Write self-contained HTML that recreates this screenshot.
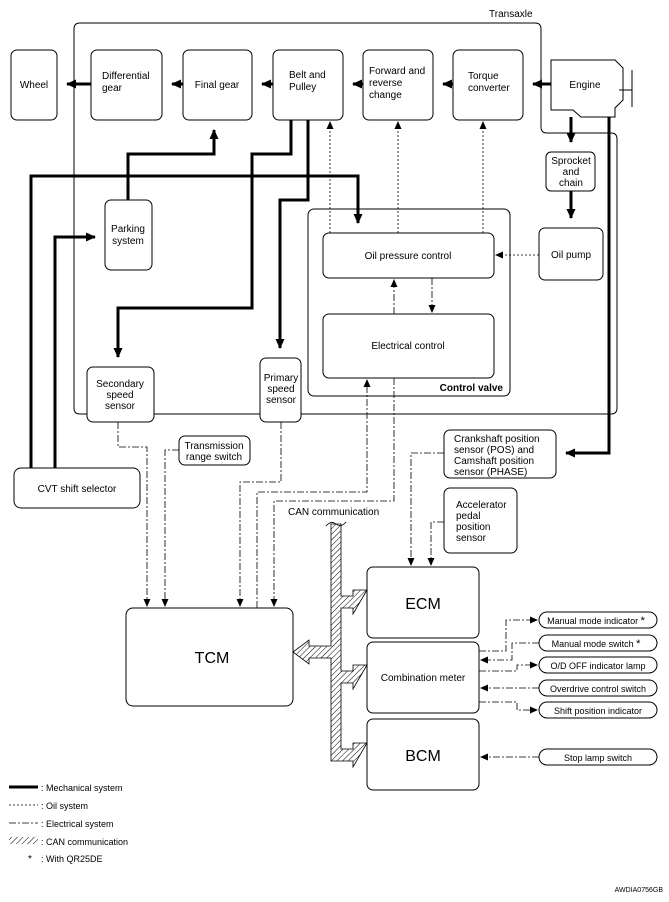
<!DOCTYPE html>
<html><head><meta charset="utf-8"><style>
html,body{margin:0;padding:0;background:#fff;}
svg{display:block;font-family:"Liberation Sans",sans-serif;}
text{font-size:10px;fill:#000;}
</style></head><body>
<svg width="669" height="902" viewBox="0 0 669 902" xmlns="http://www.w3.org/2000/svg">
<defs>
<marker id="a" markerWidth="8" markerHeight="8" refX="7" refY="4" orient="auto" markerUnits="userSpaceOnUse"><path d="M0,0.5 L8,4 L0,7.5 z" fill="#000"/></marker>
<marker id="b" markerWidth="10" markerHeight="10" refX="9" refY="5" orient="auto" markerUnits="userSpaceOnUse"><path d="M0,0.5 L10,5 L0,9.5 z" fill="#000"/></marker>
<pattern id="h" width="4" height="4" patternUnits="userSpaceOnUse" patternTransform="rotate(45)"><rect width="4" height="4" fill="#fff"/><line x1="0" y1="0" x2="0" y2="4" stroke="#000" stroke-width="1"/></pattern>
</defs>
<g fill="none" stroke="#000" stroke-width="1">
<!-- Transaxle outline -->
<path d="M80,23 H535 Q541,23 541,29 V127 Q541,133 547,133 H611 Q617,133 617,139 V408 Q617,414 611,414 H80 Q74,414 74,408 V29 Q74,23 80,23 Z"/>
<rect x="11" y="50" width="46" height="70" rx="6"/>
<rect x="91" y="50" width="71" height="70" rx="6"/>
<rect x="183" y="50" width="69" height="70" rx="6"/>
<rect x="273" y="50" width="70" height="70" rx="6"/>
<rect x="363" y="50" width="70" height="70" rx="6"/>
<rect x="453" y="50" width="70" height="70" rx="6"/>
<path d="M551,60 H615 L623,68 V100 L615,108 V117 H581 L573,110 H551 Z" fill="#fff"/>
<path d="M632,70 V107 M619,90 H632"/>
<rect x="546" y="152" width="49" height="39" rx="5"/>
<rect x="539" y="228" width="64" height="52" rx="6"/>
<rect x="308" y="209" width="202" height="187" rx="6"/>
<rect x="323" y="233" width="171" height="45" rx="6"/>
<rect x="323" y="314" width="171" height="64" rx="6"/>
<rect x="105" y="200" width="47" height="70" rx="6"/>
<rect x="87" y="367" width="67" height="55" rx="6" fill="#fff"/>
<rect x="260" y="358" width="41" height="64" rx="6" fill="#fff"/>
<rect x="179" y="436" width="71" height="29" rx="6"/>
<rect x="14" y="468" width="126" height="40" rx="7"/>
<rect x="444" y="430" width="112" height="48" rx="6"/>
<rect x="444" y="488" width="73" height="65" rx="6"/>
<rect x="367" y="567" width="112" height="71" rx="6"/>
<rect x="367" y="642" width="112" height="71" rx="6"/>
<rect x="367" y="719" width="112" height="71" rx="6"/>
<rect x="126" y="608" width="167" height="98" rx="7"/>
<rect x="539" y="612" width="118" height="16" rx="8"/>
<rect x="539" y="635" width="118" height="16" rx="8"/>
<rect x="539" y="657" width="118" height="16" rx="8"/>
<rect x="539" y="680" width="118" height="16" rx="8"/>
<rect x="539" y="702" width="118" height="16" rx="8"/>
<rect x="539" y="749" width="118" height="16" rx="8"/>
</g>
<!-- mechanical -->
<g fill="none" stroke="#000" stroke-width="3">
<path d="M551,84 H533" marker-end="url(#b)"/>
<path d="M453,84 H443" marker-end="url(#b)"/>
<path d="M363,84 H353" marker-end="url(#b)"/>
<path d="M273,84 H262" marker-end="url(#b)"/>
<path d="M183,84 H172" marker-end="url(#b)"/>
<path d="M91,84 H67" marker-end="url(#b)"/>
<path d="M128,200 V154 H214 V130" marker-end="url(#b)"/>
<path d="M31,468 V176 H358 V223" marker-end="url(#b)"/>
<path d="M55,468 V237 H95" marker-end="url(#b)"/>
<path d="M291,120 V154 H252 V308 H118 V357" marker-end="url(#b)"/>
<path d="M308,120 V200 H280 V348" marker-end="url(#b)"/>
<path d="M571,117 V142" marker-end="url(#b)"/>
<path d="M571,191 V218" marker-end="url(#b)"/>
<path d="M609,117 V453 H566" marker-end="url(#b)"/>
</g>
<!-- oil -->
<g fill="none" stroke="#000" stroke-width="0.8" stroke-dasharray="2,2">
<path d="M330,233 V122" marker-end="url(#a)"/>
<path d="M398,233 V122" marker-end="url(#a)"/>
<path d="M483,233 V122" marker-end="url(#a)"/>
<path d="M539,255 H496" marker-end="url(#a)"/>
</g>
<!-- electrical -->
<g fill="none" stroke="#000" stroke-width="0.8" stroke-dasharray="7,2,2,2">
<path d="M394,314 V280" marker-end="url(#a)"/>
<path d="M432,278 V312" marker-end="url(#a)"/>
<path d="M257,608 V492 H367 V380" marker-end="url(#a)"/>
<path d="M394,378 V501 H274 V606" marker-end="url(#a)"/>
<path d="M118,422 V447 H147 V606" marker-end="url(#a)"/>
<path d="M179,450 H165 V606" marker-end="url(#a)"/>
<path d="M281,422 V482 H240 V606" marker-end="url(#a)"/>
<path d="M444,453 H411 V565" marker-end="url(#a)"/>
<path d="M444,522 H431 V565" marker-end="url(#a)"/>
<path d="M479,651 H506 V620 H537" marker-end="url(#a)"/>
<path d="M539,643 H512 V660 H481" marker-end="url(#a)"/>
<path d="M479,671 H517 V665 H537" marker-end="url(#a)"/>
<path d="M539,688 H481" marker-end="url(#a)"/>
<path d="M479,702 H517 V710 H537" marker-end="url(#a)"/>
<path d="M539,757 H481" marker-end="url(#a)"/>
</g>
<!-- CAN bus -->
<g stroke="#000" stroke-width="0.8" fill="url(#h)">
<path d="M331,524 H341 V596 H353 V590 H367 L353,614 H353 V608 H341 V671 H353 V665 H367 L353,689 V683 H341 V749 H353 V743 H367 L353,767 V761 H331 V658 H309 V664 L293,652 L309,640 V646 H331 Z" stroke-linejoin="miter"/>
<path d="M326,526 Q331,520 336,524 Q341,528 346,522" fill="none"/>
</g>
<!-- legend lines -->
<g fill="none" stroke="#000">
<path d="M9,787 H38" stroke-width="3"/>
<path d="M9,805 H38" stroke-width="0.8" stroke-dasharray="2,2"/>
<path d="M9,823 H38" stroke-width="0.8" stroke-dasharray="7,2,2,2"/>
</g>
<rect x="9" y="837" width="29" height="7" fill="url(#h)"/>
<!-- texts -->
<text x="489" y="17">Transaxle</text>
<text x="34" y="88" text-anchor="middle">Wheel</text>
<text x="102" y="79">Differential</text><text x="102" y="91">gear</text>
<text x="217" y="88" text-anchor="middle">Final gear</text>
<text x="289" y="78">Belt and</text><text x="289" y="90">Pulley</text>
<text x="369" y="74">Forward and</text><text x="369" y="86">reverse</text><text x="369" y="98">change</text>
<text x="468" y="79">Torque</text><text x="468" y="91">converter</text>
<text x="585" y="88" text-anchor="middle">Engine</text>
<text x="571" y="164" text-anchor="middle">Sprocket</text><text x="571" y="175" text-anchor="middle">and</text><text x="571" y="186" text-anchor="middle">chain</text>
<text x="571" y="258" text-anchor="middle">Oil pump</text>
<text x="408" y="259" text-anchor="middle">Oil pressure control</text>
<text x="408" y="349" text-anchor="middle">Electrical control</text>
<text x="503" y="391" text-anchor="end" font-weight="bold">Control valve</text>
<text x="128" y="232" text-anchor="middle">Parking</text><text x="128" y="244" text-anchor="middle">system</text>
<text x="120" y="387" text-anchor="middle">Secondary</text><text x="120" y="398" text-anchor="middle">speed</text><text x="120" y="409" text-anchor="middle">sensor</text>
<text x="281" y="381" text-anchor="middle">Primary</text><text x="281" y="392" text-anchor="middle">speed</text><text x="281" y="403" text-anchor="middle">sensor</text>
<text x="214" y="449" text-anchor="middle">Transmission</text><text x="214" y="460" text-anchor="middle">range switch</text>
<text x="77" y="492" text-anchor="middle">CVT shift selector</text>
<text x="454" y="442">Crankshaft position</text><text x="454" y="453">sensor (POS) and</text><text x="454" y="464">Camshaft position</text><text x="454" y="475">sensor (PHASE)</text>
<text x="456" y="508">Accelerator</text><text x="456" y="519">pedal</text><text x="456" y="530">position</text><text x="456" y="541">sensor</text>
<text x="288" y="515">CAN communication</text>
<text x="423" y="609" text-anchor="middle" style="font-size:16px">ECM</text>
<text x="423" y="681" text-anchor="middle">Combination meter</text>
<text x="423" y="761" text-anchor="middle" style="font-size:16px">BCM</text>
<text x="212" y="663" text-anchor="middle" style="font-size:16px">TCM</text>
<text x="596" y="624" text-anchor="middle" style="font-size:9px">Manual mode indicator <tspan font-size="11">*</tspan></text>
<text x="596" y="647" text-anchor="middle" style="font-size:9px">Manual mode switch <tspan font-size="11">*</tspan></text>
<text x="598" y="669" text-anchor="middle" style="font-size:9px">O/D OFF indicator lamp</text>
<text x="598" y="692" text-anchor="middle" style="font-size:9px">Overdrive control switch</text>
<text x="598" y="714" text-anchor="middle" style="font-size:9px">Shift position indicator</text>
<text x="598" y="761" text-anchor="middle" style="font-size:9px">Stop lamp switch</text>
<text x="41" y="791" style="font-size:9px">: Mechanical system</text>
<text x="41" y="809" style="font-size:9px">: Oil system</text>
<text x="41" y="827" style="font-size:9px">: Electrical system</text>
<text x="41" y="845" style="font-size:9px">: CAN communication</text>
<text x="28" y="862" style="font-size:10px">*</text>
<text x="41" y="862" style="font-size:9px">: With QR25DE</text>
<text x="663" y="892" text-anchor="end" style="font-size:7px">AWDIA0756GB</text>
</svg>
</body></html>
